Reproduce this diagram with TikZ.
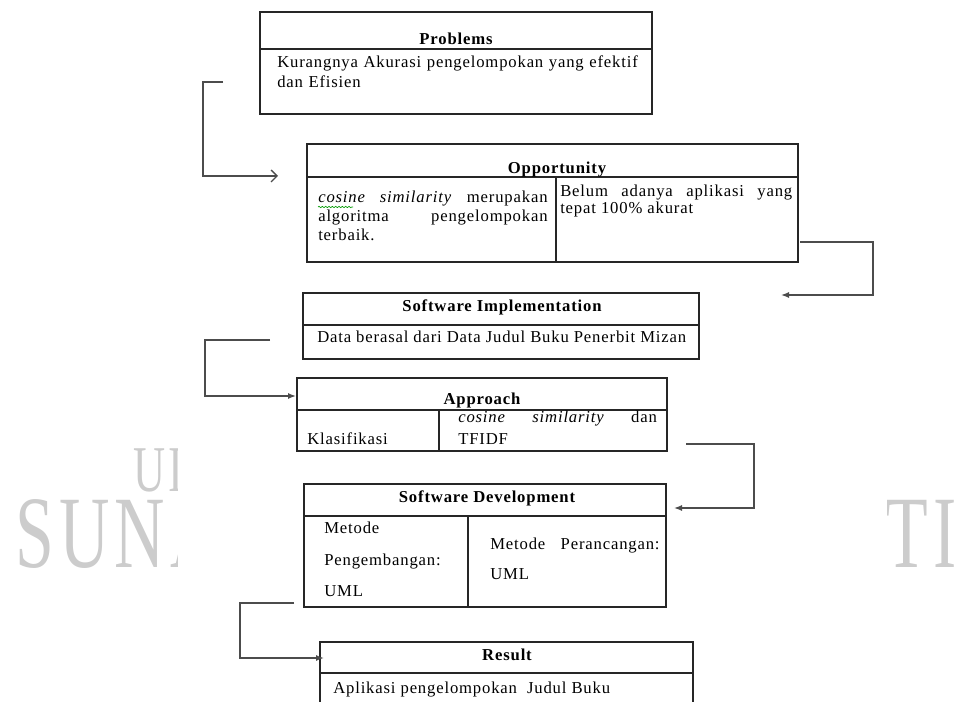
\documentclass[tikz,border=0pt]{standalone}
\usepackage{fontspec}
\setmainfont[LetterSpace=5]{Liberation Serif}
\newfontfamily\markfont[FakeStretch=0.68,LetterSpace=5]{Liberation Serif}
\usepackage{tikz}
\usetikzlibrary{calc,fit,arrows.meta,decorations.pathmorphing,positioning}
\definecolor{grey}{gray}{0.8}
\definecolor{flowgrey}{gray}{0.3}
\tikzset{boxline/.style={draw=black!85,line width=1.1pt},flowline/.style={draw=flowgrey,line width=1pt}}

\begin{document}
\begin{tikzpicture}[x=0.75pt,y=-0.75pt,font=\fontsize{12.5}{14}\selectfont]

\tikzset{boxnode/.style={boxline,shape=rectangle,inner sep=0pt},
titletext/.style={font=\fontsize{12.5}{14}\selectfont\bfseries,anchor=base,inner sep=0pt},
celltext/.style={anchor=base west,inner sep=0pt,align=left},
justtext/.style={anchor=base west,inner sep=0pt,align=justify},
openarrow/.style={flowline,-{Straight Barb[length=4.5pt,width=9pt]}},
fillarrow/.style={flowline,-{Latex[length=6pt,width=4.5pt]}},
watermark/.style={text=grey,inner sep=0pt,anchor=base west,text depth=0pt}}

\useasboundingbox (0,0) rectangle (958,702);

% Watermark
\begin{scope}
\clip (0,440) rectangle (177,580);
\node[watermark,text height=32pt,font=\markfont\fontsize{49}{49}\selectfont] (wmtop) at (133,492) {UIN};
\node[watermark,text height=51pt,font=\markfont\fontsize{77}{77}\selectfont] (wmleft) at (15,567) {SUNAN};
\end{scope}
\begin{scope}
\clip (887,440) rectangle (958,580);
\node[watermark,text height=51pt,font=\markfont\fontsize{77}{77}\selectfont] (wmright) at (885,567) {TI};
\end{scope}

% Boxes
\node[boxnode,fit={(260,12) (652,114)}] (problems) {};
\node[boxnode,fit={(307,144) (798,262)}] (opportunity) {};
\node[boxnode,fit={(303,293) (699,359)}] (implementation) {};
\node[boxnode,fit={(297,378) (667,451)}] (approach) {};
\node[boxnode,fit={(304,484) (666,607)}] (development) {};
\node[boxnode,fit={(320,642) (693,720)}] (result) {};

% Header lines and dividers
\foreach \b/\y in {problems/49,opportunity/177,implementation/325,approach/410,development/516,result/673}
  \draw[boxline] (\b.west |- 0,\y) -- (\b.east |- 0,\y);
\draw[boxline] (556,177) -- (opportunity.south -| 556,0);
\draw[boxline] (439,410) -- (approach.south -| 439,0);
\draw[boxline] (468,516) -- (development.south -| 468,0);

% Titles
\node[titletext] (problemsTitle) at (456,45) {Problems};
\node[titletext] (opportunityTitle) at (557,174) {Opportunity};
\node[titletext] (implementationTitle) at (502,312) {Software Implementation};
\node[titletext] (approachTitle) at (482,405) {Approach};
\node[titletext] (developmentTitle) at (487,503) {Software Development};
\node[titletext] (resultTitle) at (507,660) {Result};

% Cell texts
\node[celltext,text width=282pt,font=\fontsize{12.5}{15}\selectfont] (problemsText) at (277,68) {Kurangnya Akurasi pengelompokan yang efektif\\dan Efisien};
\node[justtext,text width=172pt,font=\fontsize{12.5}{14.25}\selectfont] (oppLeft) at (318,203) {\textit{cosine similarity} merupakan\linebreak algoritma pengelompokan\linebreak terbaik.};
\node[justtext,text width=174pt,font=\fontsize{12.5}{12.5}\selectfont] (oppRight) at (560,197) {Belum adanya aplikasi yang\linebreak tepat 100\% akurat};
\draw[green!60!black,line width=0.5pt,decorate,decoration={snake,amplitude=0.5pt,segment length=2.5pt}] ($(oppLeft.base west)+(0,4)$) -- ++(35,0);
\node[celltext] (implementationText) at (317,343) {Data berasal dari Data Judul Buku Penerbit Mizan};
\node[celltext] (approachLeft) at (307,445) {Klasifikasi};
\node[justtext,text width=149pt,font=\fontsize{12.5}{16.5}\selectfont] (approachRight) at (458,423) {\textit{cosine} \textit{similarity} dan\linebreak TFIDF};
\node[celltext,text width=100pt,font=\fontsize{12.5}{23.6}\selectfont] (devLeft) at (324,534) {Metode\\Pengembangan:\\UML};
\node[justtext,text width=127pt,font=\fontsize{12.5}{22.5}\selectfont] (devRight) at (490,550) {Metode Perancangan:\linebreak UML};
\node[celltext] (resultText) at (333,693) {Aplikasi pengelompokan~ Judul Buku};

% Connectors
\coordinate (c1s) at (223,82); \coordinate (c1e) at (278,176);
\coordinate (c2s) at (800,242); \coordinate (c2e) at (781,295);
\coordinate (c3s) at (270,340); \coordinate (c3e) at (296,396);
\coordinate (c4s) at (686,444); \coordinate (c4e) at (674,508);
\coordinate (c5s) at (294,603); \coordinate (c5e) at (324,658);
\draw[openarrow] (c1s) -- ++(-20,0) |- (c1e);
\draw[fillarrow] (c2s) -- ++(73,0) |- (c2e);
\draw[fillarrow] (c3s) -- ++(-65,0) |- (c3e);
\draw[fillarrow] (c4s) -- ++(68,0) |- (c4e);
\draw[fillarrow] (c5s) -- ++(-54,0) |- (c5e);

\end{tikzpicture}
\end{document}
